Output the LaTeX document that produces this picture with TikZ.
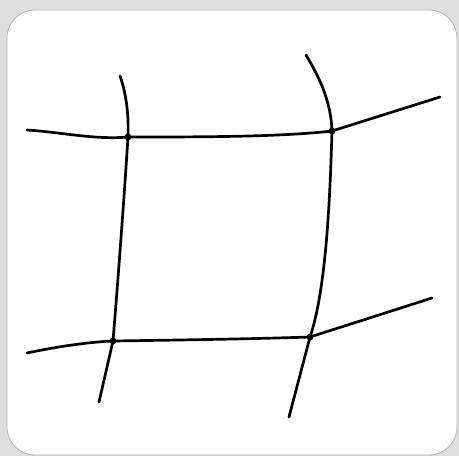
\documentclass[tikz,border=0pt]{standalone}
\begin{document}
\begin{tikzpicture}[x=1pt,y=-1pt,line width=2.7pt,line cap=round,
    knot/.style={fill=black}]
      \useasboundingbox (0,0) rectangle (459,456);
      \fill[gray!26] (0,0) rectangle (459,456);
      \draw[line width=.8pt,gray!60,fill=white,rounded corners=28pt] (7,10) rectangle (457,455);
      % corners of the square
      \coordinate (tl) at (128,137);
      \coordinate (tr) at (332,131);
      \coordinate (bl) at (113,341);
      \coordinate (br) at (310,337);
      % loose ends
      \coordinate (tlup) at (120,76);
      \coordinate (tlleft) at (27,130);
      \coordinate (trup) at (306,55);
      \coordinate (trright) at (440,97);
      \coordinate (bldown) at (99,402);
      \coordinate (blleft) at (27,353);
      \coordinate (brdown) at (289,417);
      \coordinate (brright) at (432,298);
      \draw (tlleft) .. controls (60,132) and (95,140) .. (tl) .. controls (200,137) and (280,137) .. (tr) -- (trright);
      \draw (blleft) .. controls (60,346) and (90,342) .. (bl) .. controls (180,340) and (250,339) .. (br) -- (brright);
      \draw (tlup) .. controls (125,90) and (129,110) .. (tl) .. controls (124,200) and (118,280) .. (bl) -- (bldown);
      \draw (trup) .. controls (318,75) and (331,100) .. (tr) .. controls (330,200) and (326,290) .. (br) -- (brdown);
      \foreach \c in {tl,tr,bl,br} {
        \fill[knot] (\c) circle (3.4pt);
      }
    \end{tikzpicture}
\end{document}
